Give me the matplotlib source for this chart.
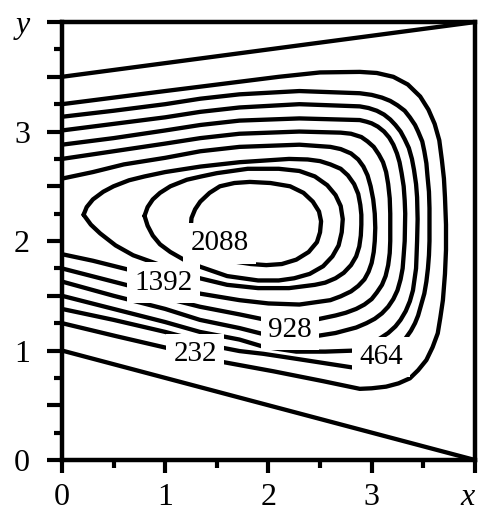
import matplotlib
matplotlib.use("Agg")
import matplotlib.pyplot as plt
from matplotlib.ticker import MultipleLocator, FixedLocator, FuncFormatter

# Stream-function levels drawn as iso-lines
levels = [232, 464, 696, 928, 1160, 1392, 1624, 1856, 2088]

# Zero streamlines (sloped walls)
wall_lo_x = [0.0, 4.0]
wall_lo_y = [1.0, 0.0]
wall_hi_x = [0.0, 4.0]
wall_hi_y = [3.5, 4.0]

psi232_x = [0.0, 0.5, 1.0, 1.34, 1.72, 2.1, 2.5, 2.885, 3.05, 3.21, 3.35, 3.47, 3.55, 3.61, 3.655,
            3.68, 3.70, 3.71, 3.72, 3.72, 3.71, 3.69, 3.665, 3.64, 3.59, 3.53, 3.45, 3.37, 3.26,
            3.14, 3.0, 2.885, 2.53, 2.05, 1.53, 1.01, 0.53, 0.0]
psi232_y = [3.25, 3.31, 3.37, 3.41, 3.455, 3.50, 3.54, 3.545, 3.535, 3.50, 3.43, 3.32, 3.20, 3.07, 2.92,
            2.74, 2.57, 2.40, 2.15, 1.92, 1.70, 1.46, 1.30, 1.157, 1.03, 0.913, 0.82, 0.746, 0.70,
            0.67, 0.655, 0.65, 0.72, 0.81, 0.90, 1.025, 1.13, 1.25]

psi464_x = [0.0, 0.5, 1.0, 1.34, 1.72, 2.3, 2.885, 3.0, 3.1, 3.18, 3.25, 3.32, 3.37, 3.42, 3.45,
            3.49, 3.51, 3.53, 3.54, 3.555, 3.56, 3.56, 3.555, 3.545, 3.53, 3.51, 3.48, 3.45, 3.42,
            3.38, 3.32, 3.27, 3.22, 3.16, 3.10, 3.04, 2.98, 2.85, 2.3, 1.95, 1.72, 1.53, 1.24,
            1.0, 0.5, 0.0]
psi464_y = [3.135, 3.19, 3.25, 3.30, 3.34, 3.37, 3.35, 3.335, 3.31, 3.28, 3.24, 3.19, 3.13, 3.06, 3.0,
            2.91, 2.82, 2.71, 2.60, 2.45, 2.30, 2.0, 1.87, 1.75, 1.63, 1.52, 1.42, 1.32, 1.25,
            1.18, 1.10, 1.05, 1.00, 0.955, 0.91, 0.88, 0.86, 0.84, 0.92, 0.97, 0.995, 1.03, 1.11,
            1.17, 1.28, 1.38]

psi696_x = [0.0, 0.5, 1.0, 1.34, 1.72, 2.3, 2.885, 2.97, 3.05, 3.12, 3.18, 3.23, 3.28, 3.32, 3.36,
            3.39, 3.41, 3.43, 3.44, 3.445, 3.44, 3.435, 3.43, 3.415, 3.40, 3.37, 3.33, 3.28, 3.23,
            3.16, 3.08, 2.95, 2.85, 2.55, 2.27, 1.95, 1.72, 1.336, 1.0, 0.5, 0.0]
psi696_y = [3.01, 3.07, 3.13, 3.18, 3.22, 3.25, 3.23, 3.215, 3.19, 3.155, 3.11, 3.06, 3.0, 2.93, 2.85,
            2.75, 2.65, 2.52, 2.40, 2.2, 2.0, 1.87, 1.75, 1.65, 1.55, 1.45, 1.36, 1.28, 1.22,
            1.16, 1.11, 1.04, 1.0, 0.99, 0.99, 1.035, 1.10, 1.17, 1.26, 1.38, 1.50]

psi928_x = [0.0, 0.5, 1.0, 1.34, 1.72, 2.3, 2.885, 2.95, 3.0, 3.06, 3.12, 3.17, 3.21, 3.245, 3.27,
            3.29, 3.31, 3.32, 3.325, 3.32, 3.31, 3.30, 3.28, 3.25, 3.21, 3.16, 3.10, 3.03, 2.95,
            2.85, 2.65, 2.45, 2.22, 1.95, 1.72, 1.336, 1.0, 0.5, 0.0]
psi928_y = [2.88, 2.94, 3.01, 3.06, 3.10, 3.12, 3.105, 3.09, 3.075, 3.045, 3.0, 2.945, 2.88, 2.80, 2.72,
            2.62, 2.50, 2.37, 2.25, 2.0, 1.87, 1.75, 1.65, 1.55, 1.47, 1.40, 1.34, 1.29, 1.25,
            1.21, 1.16, 1.13, 1.14, 1.15, 1.205, 1.28, 1.38, 1.50, 1.63]

psi1160_x = [0.0, 0.5, 1.0, 1.34, 1.72, 2.3, 2.7, 2.8, 2.9, 2.96, 3.02, 3.07, 3.11, 3.14, 3.16,
             3.175, 3.18, 3.18, 3.175, 3.16, 3.135, 3.10, 3.05, 3.0, 2.93, 2.85, 2.75, 2.65, 2.45,
             2.2, 1.95, 1.72, 1.336, 1.0, 0.66, 0.0]
psi1160_y = [2.75, 2.82, 2.89, 2.94, 2.98, 3.00, 2.99, 2.98, 2.95, 2.91, 2.86, 2.79, 2.72, 2.63, 2.52,
             2.39, 2.25, 2.0, 1.89, 1.78, 1.68, 1.60, 1.53, 1.47, 1.42, 1.38, 1.345, 1.32, 1.28,
             1.27, 1.285, 1.33, 1.40, 1.48, 1.59, 1.75]

psi1392_x = [0.0, 0.3, 0.6, 1.0, 1.34, 1.72, 2.3, 2.6, 2.7, 2.8, 2.87, 2.92, 2.96, 2.99, 3.015,
             3.03, 3.035, 3.03, 3.02, 3.0, 2.97, 2.93, 2.87, 2.80, 2.7, 2.6, 2.3, 2.0, 1.72,
             1.336, 1.0, 0.66, 0.3, 0.0]
psi1392_y = [2.57, 2.63, 2.70, 2.76, 2.82, 2.86, 2.88, 2.86, 2.84, 2.80, 2.745, 2.68, 2.60, 2.50, 2.38,
             2.25, 2.12, 2.0, 1.90, 1.80, 1.72, 1.65, 1.59, 1.54, 1.495, 1.46, 1.42, 1.43, 1.46,
             1.52, 1.62, 1.735, 1.82, 1.88]

psi1624_x = [0.21, 0.24, 0.3, 0.4, 0.5, 0.65, 0.8, 1.0, 1.34, 1.72, 2.2, 2.38, 2.5, 2.6, 2.7,
             2.77, 2.83, 2.87, 2.89, 2.90, 2.90, 2.895, 2.88, 2.85, 2.80, 2.73, 2.65, 2.55, 2.45,
             2.2, 1.9, 1.6, 1.336, 1.0, 0.69, 0.52, 0.37, 0.28, 0.21]
psi1624_y = [2.24, 2.31, 2.38, 2.45, 2.50, 2.555, 2.59, 2.63, 2.68, 2.72, 2.75, 2.745, 2.73, 2.70, 2.66,
             2.60, 2.52, 2.43, 2.33, 2.24, 2.15, 2.05, 1.95, 1.86, 1.78, 1.71, 1.66, 1.62, 1.60,
             1.57, 1.57, 1.60, 1.66, 1.765, 1.87, 1.96, 2.07, 2.15, 2.24]

psi1856_x = [0.80, 0.83, 0.88, 0.95, 1.05, 1.21, 1.35, 1.5, 1.8, 2.1, 2.3, 2.45, 2.57, 2.65, 2.70,
             2.72, 2.71, 2.68, 2.62, 2.53, 2.40, 2.25, 2.10, 1.9, 1.6, 1.34, 1.18, 1.05, 0.95,
             0.88, 0.83, 0.80]
psi1856_y = [2.23, 2.31, 2.38, 2.44, 2.50, 2.56, 2.59, 2.62, 2.66, 2.66, 2.64, 2.59, 2.51, 2.42, 2.32,
             2.20, 2.08, 1.96, 1.86, 1.77, 1.70, 1.66, 1.64, 1.64, 1.68, 1.765, 1.83, 1.90, 1.97,
             2.05, 2.14, 2.23]

psi2088_x = [1.27, 1.25, 1.255, 1.29, 1.34, 1.43, 1.53, 1.67, 1.82, 2.02, 2.21, 2.34, 2.43, 2.49,
             2.51, 2.50, 2.47, 2.39, 2.27, 2.13, 1.98, 1.83, 1.69, 1.56, 1.45, 1.35, 1.27]
psi2088_y = [2.08, 2.15, 2.21, 2.29, 2.36, 2.44, 2.50, 2.53, 2.54, 2.53, 2.50, 2.44, 2.36, 2.27,
             2.18, 2.08, 1.99, 1.90, 1.83, 1.79, 1.78, 1.79, 1.81, 1.86, 1.92, 1.99, 2.08]

curves = [
    (psi232_x, psi232_y), (psi464_x, psi464_y), (psi696_x, psi696_y),
    (psi928_x, psi928_y), (psi1160_x, psi1160_y), (psi1392_x, psi1392_y),
    (psi1624_x, psi1624_y), (psi1856_x, psi1856_y), (psi2088_x, psi2088_y),
]

# Levels that carry an inline label
labelled = [2088, 1392, 928, 232, 464]

plt.rcParams["font.family"] = ["Liberation Serif", "DejaVu Serif"]

fig = plt.figure(figsize=(4.8, 5.11), dpi=100)
ax = fig.add_axes([0.129, 0.0998, 0.8604, 0.857])

line_kw = dict(color="black", lw=3.1, solid_capstyle="round", solid_joinstyle="round")
ax.plot(wall_lo_x, wall_lo_y, **line_kw)
ax.plot(wall_hi_x, wall_hi_y, **line_kw)
for cx, cy in curves:
    ax.plot(cx, cy, **line_kw)

# label anchor spots on the corresponding iso-lines
label_spots = {2088: (1.53, 1.98), 1392: (0.98, 1.62), 928: (2.21, 1.19),
               232: (1.29, 0.97), 464: (3.09, 0.94)}
for lev in labelled:
    lx, ly = label_spots[lev]
    ax.text(lx, ly, str(lev), fontsize=21, ha="center", va="center", zorder=5,
            bbox=dict(boxstyle="square,pad=0.25", fc="white", ec="none"))

ax.set_xlim(0, 4)
ax.set_ylim(0, 4)

for side in ax.spines.values():
    side.set_linewidth(3.2)

ax.xaxis.set_major_locator(FixedLocator([0, 1, 2, 3, 4]))
ax.xaxis.set_minor_locator(MultipleLocator(0.5))
ax.yaxis.set_major_locator(MultipleLocator(0.5))
ax.yaxis.set_minor_locator(MultipleLocator(0.25))


def xfmt(v, pos):
    return "x" if abs(v - 4) < 1e-6 else f"{v:g}"


def yfmt(v, pos):
    if abs(v - 4) < 1e-6:
        return "y"
    return f"{v:g}" if abs(v - round(v)) < 1e-6 else ""


ax.xaxis.set_major_formatter(FuncFormatter(xfmt))
ax.yaxis.set_major_formatter(FuncFormatter(yfmt))

ax.tick_params(axis="both", which="major", direction="out", width=3.0, labelsize=23)
ax.tick_params(axis="x", which="major", length=9.5, pad=7)
ax.tick_params(axis="y", which="major", length=11, pad=12)
ax.tick_params(axis="both", which="minor", direction="out", width=3.0, length=6)
ax.tick_params(top=False, right=False, which="both")

fig.canvas.draw()
for t in ax.get_xticklabels() + ax.get_yticklabels():
    if t.get_text() in ("x", "y"):
        t.set_fontstyle("italic")
    if t.get_text() == "x":
        t.set_horizontalalignment("right")

fig.savefig("out.png", dpi=100)
